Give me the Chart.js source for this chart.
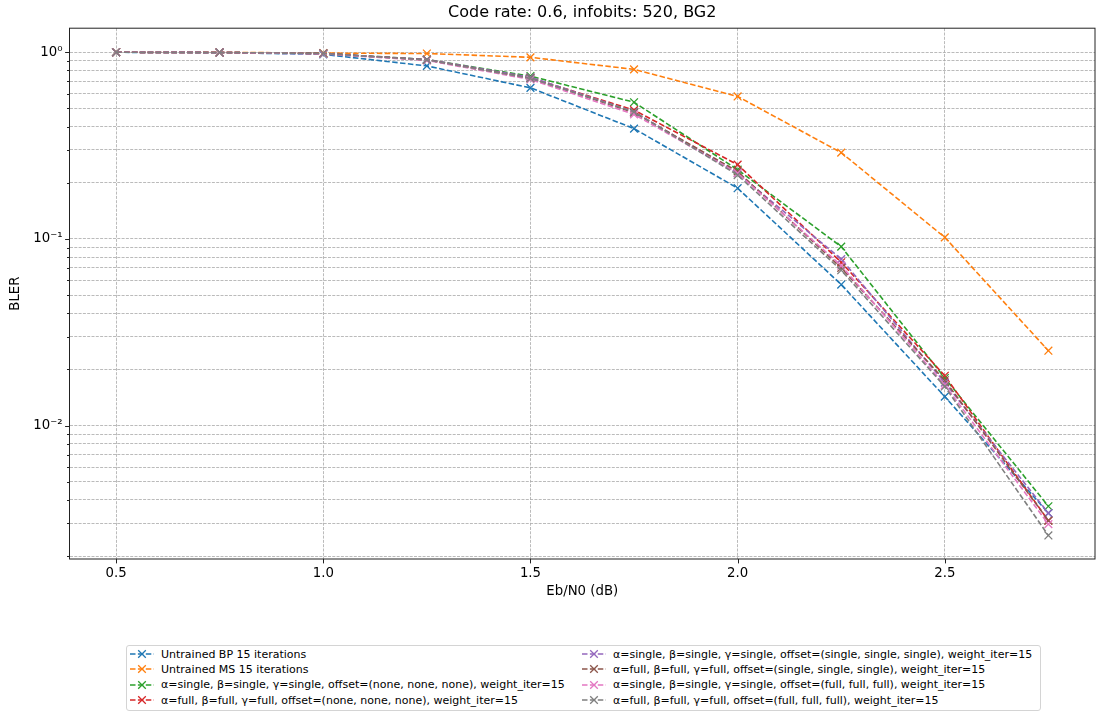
<!DOCTYPE html>
<html>
<head>
<meta charset="utf-8">
<script src="https://cdn.jsdelivr.net/npm/chart.js@4/dist/chart.umd.min.js"></script>
<style>
  body { margin: 0; background: #fff; font-family: 'DejaVu Sans', sans-serif; }
  #wrap { position: relative; width: 1097px; height: 713px; }
  #legend {
    position: absolute; left: 126px; top: 645px; width: 913px; height: 64px;
    border: 1px solid #d4d4d4; border-radius: 3px; background: #fff;
    font-size: 11px; color: #000;
  }
  .item { position: absolute; display: flex; align-items: center; height: 14px; white-space: nowrap; }
  .item svg { margin-right: 7px; flex: none; }
</style>
</head>
<body>
<div id="wrap">
  <canvas id="chart" width="1097" height="713"></canvas>
  <div id="legend"></div>
</div>
<script>
// Eb/N0 sweep (dB)
const ebn0 = [0.5, 0.75, 1.0, 1.25, 1.5, 1.75, 2.0, 2.25, 2.5, 2.75];
const xTickValues = [0.5, 1.0, 1.5, 2.0, 2.5];

// BLER per decoder
const bpUntrained = [1.0, 0.995, 0.975, 0.845, 0.645, 0.39, 0.187, 0.057, 0.0143, 0.0034];
const msUntrained = [1.0, 1.0, 0.99, 0.985, 0.94, 0.81, 0.58, 0.29, 0.102, 0.0252];
const ssNone = [1.0, 0.998, 0.985, 0.915, 0.745, 0.54, 0.235, 0.091, 0.018, 0.0037];
const ffNone = [1.0, 0.998, 0.985, 0.91, 0.73, 0.49, 0.25, 0.075, 0.0185, 0.0031];
const ssSingle = [1.0, 0.998, 0.985, 0.915, 0.735, 0.48, 0.225, 0.078, 0.017, 0.0034];
const ffSingle = [1.0, 0.998, 0.985, 0.91, 0.725, 0.475, 0.23, 0.07, 0.0175, 0.0031];
const ssFull = [1.0, 0.998, 0.98, 0.905, 0.715, 0.465, 0.225, 0.072, 0.0165, 0.00297];
const ffFull = [1.0, 0.998, 0.985, 0.91, 0.725, 0.48, 0.22, 0.068, 0.0162, 0.00258];

const seriesLabels = [
  'Untrained BP 15 iterations',
  'Untrained MS 15 iterations',
  'α=single, β=single, γ=single, offset=(none, none, none), weight_iter=15',
  'α=full, β=full, γ=full, offset=(none, none, none), weight_iter=15',
  'α=single, β=single, γ=single, offset=(single, single, single), weight_iter=15',
  'α=full, β=full, γ=full, offset=(single, single, single), weight_iter=15',
  'α=single, β=single, γ=single, offset=(full, full, full), weight_iter=15',
  'α=full, β=full, γ=full, offset=(full, full, full), weight_iter=15',
];
const seriesValues = [bpUntrained, msUntrained, ssNone, ffNone, ssSingle, ffSingle, ssFull, ffFull];
const seriesColors = ['#1f77b4', '#ff7f0e', '#2ca02c', '#d62728', '#9467bd', '#8c564b', '#e377c2', '#7f7f7f'];

const FONT = "'DejaVu Sans', sans-serif";
const GRID = '#a9a9a9';
const DASH = [5.5, 2.4];
const TICK_SIZE = 13.3;

// matplotlib-ish margins: 5% of data range on each side
const X_MIN = 0.3875, X_MAX = 2.8625;
const Y_MIN = 0.00193, Y_MAX = 1.346;

function logTicks() {
  const out = [];
  for (let e = -3; e <= 0; e++) {
    for (let m = 1; m <= 9; m++) {
      const v = m * Math.pow(10, e);
      if (v >= Y_MIN && v <= Y_MAX) out.push({ value: v, major: m === 1 });
    }
  }
  return out;
}
const SUP = { '0': '⁰', '1': '¹', '2': '²', '3': '³', '-': '⁻' };
function powLabel(v) {
  const e = Math.round(Math.log10(v));
  return '10' + String(e).split('').map((c) => SUP[c]).join('');
}

// frame + outward tick marks like matplotlib
const frameTicks = {
  id: 'frameTicks',
  afterDraw(chart) {
    const { ctx, chartArea: a, scales } = chart;
    ctx.save();
    ctx.strokeStyle = '#222';
    ctx.lineWidth = 1;
    ctx.strokeRect(a.left, a.top, a.right - a.left, a.bottom - a.top);
    ctx.beginPath();
    scales.x.ticks.forEach((t) => {
      const px = Math.round(scales.x.getPixelForValue(t.value)) + 0.5;
      ctx.moveTo(px, a.bottom);
      ctx.lineTo(px, a.bottom + 4.4);
    });
    scales.y.ticks.forEach((t) => {
      const py = Math.round(scales.y.getPixelForValue(t.value)) + 0.5;
      ctx.moveTo(a.left, py);
      ctx.lineTo(a.left - (t.major ? 4.4 : 2.5), py);
    });
    ctx.stroke();
    ctx.restore();
  },
};

const datasets = seriesValues.map((vals, i) => ({
  label: seriesLabels[i],
  data: ebn0.map((x, j) => ({ x, y: vals[j] })),
  borderColor: seriesColors[i],
  backgroundColor: seriesColors[i],
  borderWidth: 1.6,
  borderDash: DASH,
  pointStyle: 'crossRot',
  pointRadius: 5.5,
  pointBorderWidth: 1.3,
  pointBorderColor: seriesColors[i],
  fill: false,
  tension: 0,
  order: seriesValues.length - 1 - i,
}));

new Chart(document.getElementById('chart'), {
  type: 'line',
  data: { datasets },
  plugins: [frameTicks],
  options: {
    responsive: false,
    animation: false,
    layout: { autoPadding: false, padding: { left: 0, right: 2, top: 0, bottom: 109 } },
    plugins: {
      legend: { display: false },
      tooltip: { enabled: false },
      title: {
        display: true,
        fullSize: false,
        text: 'Code rate: 0.6, infobits: 520, BG2',
        color: '#000',
        font: { family: FONT, size: 16, weight: 'normal' },
        padding: { top: 3, bottom: 6 },
      },
    },
    scales: {
      x: {
        type: 'linear',
        min: X_MIN,
        max: X_MAX,
        afterBuildTicks: (s) => { s.ticks = xTickValues.map((v) => ({ value: v })); },
        afterFit: (s) => { s.height = 45; s.paddingLeft = 0; s.paddingRight = 0; },
        grid: { color: GRID, lineWidth: 0.8, drawTicks: false },
        border: { display: false, dash: [3, 1.3] },
        ticks: {
          color: '#000',
          padding: 7,
          autoSkip: false,
          maxRotation: 0,
          font: { family: FONT, size: TICK_SIZE },
          callback: (v) => Number(v).toFixed(1),
        },
        title: {
          display: true,
          text: 'Eb/N0 (dB)',
          color: '#000',
          font: { family: FONT, size: TICK_SIZE },
          padding: { top: 0, bottom: 4 },
        },
      },
      y: {
        type: 'logarithmic',
        min: Y_MIN,
        max: Y_MAX,
        afterBuildTicks: (s) => { s.ticks = logTicks(); },
        afterFit: (s) => { s.width = 69.5; s.paddingTop = 0; s.paddingBottom = 0; },
        grid: { color: GRID, lineWidth: 0.8, drawTicks: false },
        border: { display: false, dash: [3, 1.3] },
        ticks: {
          color: '#000',
          padding: 7,
          autoSkip: false,
          font: { family: FONT, size: TICK_SIZE },
          callback: function (v, idx, ticks) {
            return ticks[idx] && ticks[idx].major ? powLabel(v) : '';
          },
        },
        title: {
          display: true,
          text: 'BLER',
          color: '#000',
          font: { family: FONT, size: TICK_SIZE },
          padding: { top: 8, bottom: 0 },
        },
      },
    },
  },
});

// legend: two columns, filled column by column
const legend = document.getElementById('legend');
const rowTops = [1, 16, 31.5, 47];
const colLefts = [3, 455];
seriesLabels.forEach((label, i) => {
  const col = Math.floor(i / 4), row = i % 4;
  const c = seriesColors[i];
  const item = document.createElement('div');
  item.className = 'item';
  item.style.left = colLefts[col] + 'px';
  item.style.top = rowTops[row] + 'px';
  item.innerHTML =
    `<svg width="24" height="12" viewBox="0 0 24 12">
      <line x1="0" y1="6" x2="24" y2="6" stroke="${c}" stroke-width="1.6" stroke-dasharray="5.5 2.4"/>
      <path d="M8.2 2.2 L15.8 9.8 M15.8 2.2 L8.2 9.8" stroke="${c}" stroke-width="1.3"/>
    </svg><span>${label}</span>`;
  legend.appendChild(item);
});
</script>
</body>
</html>
